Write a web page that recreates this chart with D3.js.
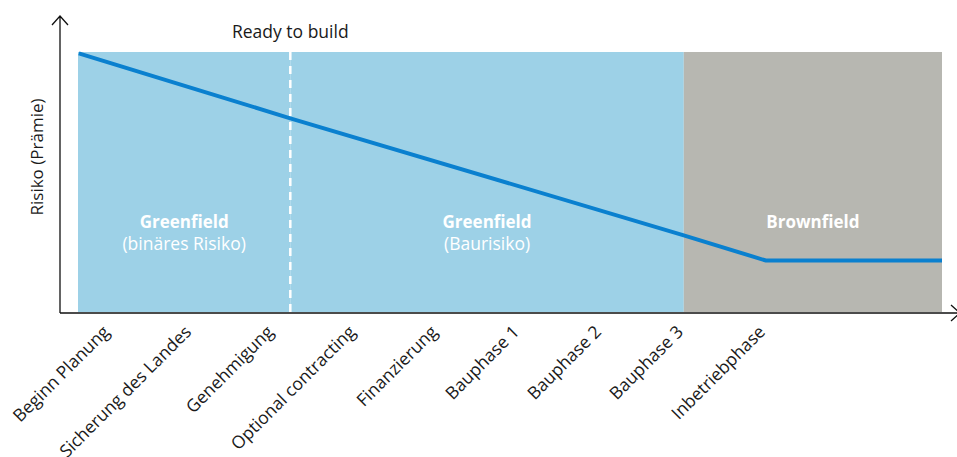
<!DOCTYPE html>
<html>
<head>
<meta charset="utf-8">
<script src="https://cdn.jsdelivr.net/npm/d3@7"></script>
<style>
  body { margin: 0; background: #fff; }
  svg { display: block; font-family: "Open Sans", "Noto Sans", sans-serif; }
</style>
</head>
<body>
<div id="chart"></div>
<script>
// Phasen auf der x-Achse
const stages = ['Beginn Planung', 'Sicherung des Landes', 'Genehmigung', 'Optional contracting',
  'Finanzierung', 'Bauphase 1', 'Bauphase 2', 'Bauphase 3', 'Inbetriebphase'];

// Risikoverlauf (x in Phasen-Index, y in % der max. Prämie)
const lineStage = [-0.38, 1.22, 2.2, 7, 8, 10.15];
const lineRisk = [99.5, 84, 74.5, 29.5, 19.8, 19.8];

// Hintergrundbereiche
const zoneNames = ['Greenfield', 'Greenfield', 'Brownfield'];
const zoneNotes = ['(binäres Risiko)', '(Baurisiko)', ''];
const zoneStart = [-0.39, 2.2, 7];
const zoneEnd = [2.2, 7, 10.15];
const zoneFill = ['#9dd1e7', '#9dd1e7', '#b7b7b1'];

const readyStage = 2.2;

const width = 957, height = 457;
const x = d3.scaleLinear().domain([-0.39, 10.15]).range([78, 942]);
const y = d3.scaleLinear().domain([0, 100]).range([312, 52]);

const svg = d3.select('#chart').append('svg')
  .attr('width', width)
  .attr('height', height);

// Flächen
svg.append('g')
  .selectAll('rect')
  .data(zoneStart.map((s, i) => ({ s, e: zoneEnd[i], fill: zoneFill[i] })))
  .join('rect')
  .attr('x', d => x(d.s))
  .attr('y', y(100))
  .attr('width', d => x(d.e) - x(d.s))
  .attr('height', y(0) - y(100))
  .attr('fill', d => d.fill);

// Ready to build Linie
svg.append('line')
  .attr('x1', x(readyStage)).attr('x2', x(readyStage))
  .attr('y1', y(100)).attr('y2', y(0))
  .attr('stroke', '#fff')
  .attr('stroke-width', 2.5)
  .attr('stroke-dasharray', '8,6');

svg.append('text')
  .attr('x', x(readyStage))
  .attr('y', 38)
  .attr('text-anchor', 'middle')
  .attr('font-size', 17.5)
  .attr('fill', '#1a1a1a')
  .text('Ready to build');

// Bereichsbeschriftungen
const labels = svg.append('g').attr('fill', '#fff').attr('text-anchor', 'middle');
zoneNames.forEach((name, i) => {
  const cx = (x(zoneStart[i]) + x(zoneEnd[i])) / 2;
  labels.append('text')
    .attr('x', cx).attr('y', 228)
    .attr('font-size', 17).attr('font-weight', 'bold')
    .text(name);
  if (zoneNotes[i]) {
    labels.append('text')
      .attr('x', cx).attr('y', 250)
      .attr('font-size', 17.5)
      .text(zoneNotes[i]);
  }
});

// Risikolinie
const line = d3.line()
  .x(d => x(d[0]))
  .y(d => y(d[1]));

svg.append('path')
  .datum(lineStage.map((s, i) => [s, lineRisk[i]]))
  .attr('d', line)
  .attr('fill', 'none')
  .attr('stroke', '#0a80cf')
  .attr('stroke-width', 4)
  .attr('stroke-linejoin', 'miter');

// Achsen mit Pfeilen
const axisColor = '#111';
const x0 = 60, yAxis = 313;
svg.append('path')
  .attr('d', `M${x0},${yAxis} V16 M${x0 - 8},25 L${x0},16 L${x0 + 8},25`)
  .attr('fill', 'none').attr('stroke', axisColor).attr('stroke-width', 1.3);
svg.append('path')
  .attr('d', `M${x0},${yAxis} H960 M951,${yAxis - 8} L960,${yAxis} L951,${yAxis + 8}`)
  .attr('fill', 'none').attr('stroke', axisColor).attr('stroke-width', 1.3);

// x-Achsenbeschriftung
const xAxis = d3.axisBottom(x)
  .tickValues(d3.range(stages.length))
  .tickFormat(i => stages[i])
  .tickSize(0)
  .tickPadding(0);

const gx = svg.append('g')
  .attr('transform', `translate(0,${yAxis})`)
  .call(xAxis);
gx.select('.domain').remove();
gx.selectAll('text')
  .attr('font-family', '"Open Sans", "Noto Sans", sans-serif')
  .attr('font-size', 17.5)
  .attr('fill', '#1a1a1a')
  .attr('text-anchor', 'end')
  .attr('dy', 0)
  .attr('y', 0)
  .attr('transform', 'translate(0,20) rotate(-45)');

// y-Achsentitel
svg.append('text')
  .attr('transform', 'translate(43,157) rotate(-90)')
  .attr('text-anchor', 'middle')
  .attr('font-size', 17)
  .attr('fill', '#1a1a1a')
  .text('Risiko (Prämie)');
</script>
</body>
</html>
